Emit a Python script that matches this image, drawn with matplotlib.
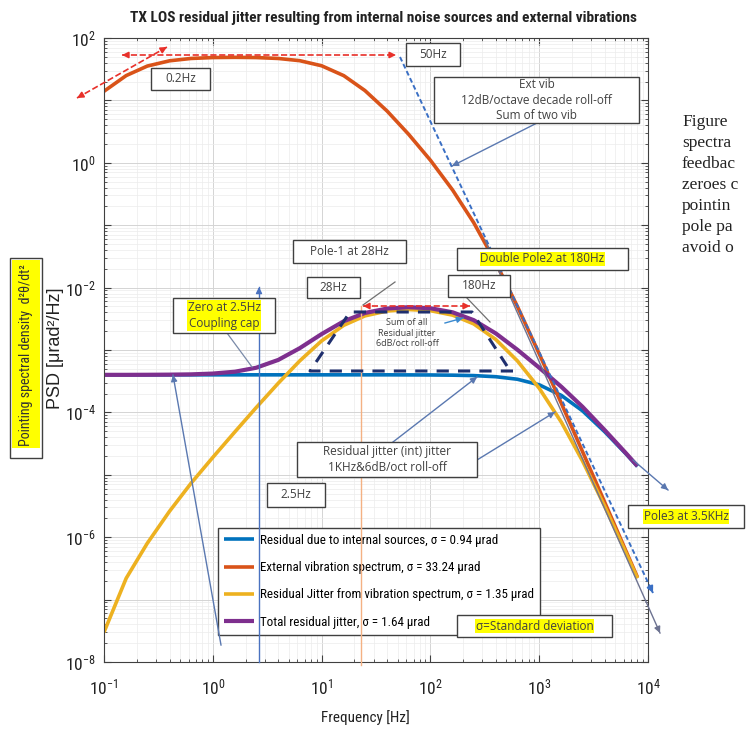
import matplotlib

matplotlib.use("Agg")
import matplotlib.pyplot as plt
import numpy as np
from matplotlib import font_manager
from matplotlib.lines import Line2D
from matplotlib.patches import FancyArrowPatch, Rectangle
from matplotlib.ticker import FuncFormatter, LogLocator, NullFormatter

W, H = 746, 742

# PSD values read at 1/5-decade steps [urad^2/Hz]
freq = [0.1, 0.16, 0.25, 0.4, 0.63, 1, 1.6, 2.5, 4, 6.3,
        10, 16, 25, 40, 63, 100, 160, 250, 400, 630,
        1000, 1600, 2500, 4000, 6300, 8000]
internal = [4.0e-4, 4.0e-4, 4.0e-4, 4.0e-4, 4.0e-4, 4.0e-4, 4.0e-4, 4.0e-4, 4.0e-4, 4.0e-4,
            4.0e-4, 4.0e-4, 4.0e-4, 4.0e-4, 3.99e-4, 3.98e-4, 3.95e-4, 3.89e-4, 3.73e-4, 3.40e-4,
            2.77e-4, 1.87e-4, 1.06e-4, 4.9e-5, 2.15e-5, 1.36e-5]
ext_vib = [14.0, 25.0, 35.5, 43.1, 47.0, 48.6, 49.0, 48.6, 47.0, 43.3,
           35.9, 24.9, 14.4, 6.75, 2.87, 1.10, 0.366, 0.110, 0.025, 5.0e-3,
           8.7e-4, 1.39e-4, 2.36e-5, 3.63e-6, 5.9e-7, 2.28e-7]
resid_vib = [3.0e-8, 2.2e-7, 8.0e-7, 2.6e-6, 7.3e-6, 1.9e-5, 4.9e-5, 1.19e-4, 2.94e-4, 6.7e-4,
             1.40e-3, 2.49e-3, 3.52e-3, 4.22e-3, 4.45e-3, 4.27e-3, 3.62e-3, 2.62e-3, 1.47e-3, 6.7e-4,
             2.44e-4, 6.95e-5, 1.67e-5, 3.13e-6, 5.5e-7, 2.19e-7]
total = [4.0e-4, 4.0e-4, 4.01e-4, 4.03e-4, 4.07e-4, 4.19e-4, 4.49e-4, 5.19e-4, 6.94e-4, 1.07e-3,
         1.80e-3, 2.89e-3, 3.92e-3, 4.62e-3, 4.85e-3, 4.67e-3, 4.02e-3, 3.01e-3, 1.84e-3, 1.01e-3,
         5.21e-4, 2.57e-4, 1.23e-4, 5.2e-5, 2.2e-5, 1.38e-5]

series = [
    (internal, "Residual due to internal sources, σ = 0.94 μrad", "#0072BD"),
    (ext_vib, "External vibration spectrum, σ = 33.24 μrad", "#D95319"),
    (resid_vib, "Residual Jitter from vibration spectrum, σ = 1.35 μrad", "#EDB120"),
    (total, "Total residual jitter, σ = 1.64 μrad", "#7E2F8E"),
]

page_text = ["Figure", "spectra", "feedbac", "zeroes c", "pointin", "pole pa", "avoid o"]

# pick the narrowest sans family available
installed = {f.name for f in font_manager.fontManager.ttflist}
NARROW_NAME = next((n for n in ["Roboto Condensed", "Liberation Sans Narrow", "Arial Narrow",
                                "Liberation Sans", "Roboto"] if n in installed), "DejaVu Sans")
NARROW = [NARROW_NAME, "DejaVu Sans"]
BOXFONT = ["Open Sans", "DejaVu Sans"]
plt.rcParams["font.family"] = NARROW
plt.rcParams["mathtext.fontset"] = "custom"
plt.rcParams["mathtext.rm"] = NARROW_NAME
plt.rcParams["mathtext.it"] = NARROW_NAME + ":italic"
plt.rcParams["mathtext.bf"] = NARROW_NAME + ":bold"

INK = "#404040"
NOTE = "#5a78b0"
RED = "#e8302a"
HL = "#ffff00"


def fp(x, y):
    """pixel position (from top-left) -> figure fraction"""
    return (x / W, 1 - y / H)


fig = plt.figure(figsize=(W / 100, H / 100), dpi=100)
renderer = fig.canvas.get_renderer()


def fit_size(text, width_px, size=10, **kw):
    t = fig.text(0, 0, text, fontsize=size, **kw)
    w = t.get_window_extent(renderer).width
    t.remove()
    return size * width_px / w


ax = fig.add_axes([104 / W, 1 - 662 / H, 544 / W, 624 / H])

for vals, label, c in series:
    lw = 3.0 if c == "#7E2F8E" else 2.6
    ax.plot(freq, vals, color=c, lw=lw, label=label, solid_capstyle="butt")

ax.set_xscale("log")
ax.set_yscale("log")
ax.set_xlim(0.1, 1e4)
ax.set_ylim(1e-8, 1e2)
ax.xaxis.set_major_locator(LogLocator(base=10, numticks=12))
ax.yaxis.set_major_locator(LogLocator(base=10, numticks=15))
ax.xaxis.set_minor_locator(LogLocator(base=10, subs=np.arange(2, 10), numticks=12))
ax.yaxis.set_minor_locator(LogLocator(base=10, subs=np.arange(2, 10), numticks=15))
ax.xaxis.set_minor_formatter(NullFormatter())
ax.yaxis.set_minor_formatter(NullFormatter())


def dec_fmt(v, _pos, every=1):
    e = int(round(np.log10(v)))
    if e % every:
        return ""
    return f"$10^{{{e}}}$"


ax.xaxis.set_major_formatter(FuncFormatter(dec_fmt))
ax.yaxis.set_major_formatter(FuncFormatter(lambda v, p: dec_fmt(v, p, every=2)))
ax.tick_params(which="both", direction="in", top=True, right=True, colors=INK, labelcolor="#222222")
ax.tick_params(which="major", length=5, labelsize=12.5)
ax.tick_params(axis="x", which="major", pad=11)
ax.tick_params(axis="y", which="major", pad=6)
ax.tick_params(which="minor", length=2.5)
ax.grid(True, which="major", color="#d4d4d4", lw=0.7)
ax.grid(True, which="minor", color="#ececec", lw=0.5)
for s in ax.spines.values():
    s.set_color(INK)
ax.set_axisbelow(True)

leg_size = fit_size(series[0][1], 236)
leg = ax.legend(loc="upper left", bbox_to_anchor=fp(218, 528), bbox_transform=fig.transFigure,
                fontsize=leg_size, frameon=True, fancybox=False, edgecolor=INK, borderpad=0.45,
                labelspacing=(26 / (leg_size * 1.39)) - 0.9, handlelength=30 / (leg_size * 1.39),
                handletextpad=0.45, borderaxespad=0)
leg.get_frame().set_linewidth(1.0)
leg.get_frame().set_alpha(1)

title = "TX LOS residual jitter resulting from internal noise sources and external vibrations"
fig.text(384 / W, 1 - 18 / H, title, ha="center", va="center",
         fontsize=fit_size(title, 508, fontweight="bold"), fontweight="bold", color="#222222")
fig.text(365 / W, 1 - 718 / H, "Frequency [Hz]", ha="center", va="center",
         fontsize=fit_size("Frequency [Hz]", 88), color="#222222")
fig.text(56 / W, 1 - 348 / H, "PSD [μrad²/Hz]", ha="center", va="center", rotation=90,
         fontsize=13, family=["Liberation Sans", "DejaVu Sans"], color="#222222")


def seg(p0, p1, color=NOTE, lw=1.0, ls="-", z=7):
    (x0, y0), (x1, y1) = fp(*p0), fp(*p1)
    fig.add_artist(Line2D([x0, x1], [y0, y1], transform=fig.transFigure, color=color,
                          lw=lw, ls=ls, zorder=z))


def head(p0, p1, color=NOTE, lw=1.0, z=7):
    # short solid piece carrying only the arrow head at p1
    fig.add_artist(FancyArrowPatch(fp(*p0), fp(*p1), transform=fig.transFigure,
                                   arrowstyle="-|>", mutation_scale=9, color=color,
                                   lw=lw, shrinkA=0, shrinkB=0, zorder=z))


def arrow(p0, p1, color=NOTE, lw=1.0, ls="-", both=False, z=7):
    seg(p0, p1, color, lw, ls, z)
    v = np.subtract(p1, p0) / np.hypot(*np.subtract(p1, p0))
    head(tuple(np.array(p1) - 6 * v), p1, color, lw, z)
    if both:
        head(tuple(np.array(p0) + 6 * v), p0, color, lw, z)


def box(x0, y0, x1, y1, text, hl=False, size=8.5):
    fig.add_artist(Rectangle(fp(x0, y1), (x1 - x0) / W, (y1 - y0) / H, transform=fig.transFigure,
                             fc="white", ec=INK, lw=1.0, zorder=8))
    bb = dict(fc=HL, ec="none", pad=0.6) if hl else None
    fig.text((x0 + x1) / 2 / W, 1 - (y0 + y1) / 2 / H, text, ha="center", va="center",
             fontsize=size, family=BOXFONT, color=INK, linespacing=1.25, zorder=9, bbox=bb)


# red dashed markers on the external vibration plateau and the residual plateau
arrow((122, 55), (396, 55), RED, 1.2, "--", both=True)
arrow((77, 98), (167, 47), RED, 1.2, "--", both=True)
arrow((363, 306), (470, 306), RED, 1.2, "--", both=True)

# roll-off asymptotes
arrow((400, 57), (653, 593), "#3a6fc4", 1.4, (0, (2.5, 1.5)))
arrow((485, 240), (660, 633), "#6d7391", 1.0)

# frequency markers
arrow((259, 662), (259, 287), "#4a72c0", 1.0)
seg((361, 306), (361, 665), "#f4b183", 1.0)

# pointer lines
arrow((537, 123), (452, 166))
seg((395, 282), (363, 305), "#707070", 0.9)
seg((466, 297), (490, 322), "#707070", 0.9)
seg((227, 333), (252, 367), "#7a8aa8", 0.9)
arrow((221, 645), (173, 375))
arrow((393, 442), (477, 377))
arrow((477, 460), (555, 412))
arrow((445, 323), (463, 318), "#3a8ad0")
arrow((633, 460), (668, 490))

# sum of residual jitter envelope
xs, ys = zip(*[fp(*p) for p in [(513, 371), (310, 371), (350, 312), (472, 312), (507, 366)]])
fig.add_artist(Line2D(xs, ys, transform=fig.transFigure, color="#1f2f6e", lw=2.2,
                      ls=(0, (4, 3)), zorder=7))
fig.text(407 / W, 1 - 333 / H, "Sum of all\nResidual jitter\n6dB/oct roll-off", ha="center",
         va="center", fontsize=6.5, family=BOXFONT, color=INK, linespacing=1.15, zorder=9)

box(151, 68, 210, 90, "0.2Hz")
box(406, 43, 460, 66, "50Hz")
box(434, 77, 639, 123, "Ext vib\n12dB/octave decade roll-off\nSum of two vib")
box(293, 240, 406, 263, "Pole-1 at 28Hz")
box(457, 248, 628, 270, "Double Pole2 at 180Hz", hl=True)
box(307, 277, 360, 298, "28Hz")
box(448, 275, 510, 297, "180Hz")
box(173, 298, 275, 333, "Zero at 2.5Hz\nCoupling cap", hl=True)
box(297, 442, 477, 477, "Residual jitter (int) jitter\n1KHz&6dB/oct roll-off")
box(267, 483, 325, 507, "2.5Hz")
box(457, 615, 612, 637, "σ=Standard deviation", hl=True)
box(628, 505, 744, 528, "Pole3 at 3.5KHz", hl=True)

# highlighted side note
fig.add_artist(Rectangle(fp(10, 458), 32 / W, 200 / H, transform=fig.transFigure,
                         fc="white", ec=INK, lw=1.0, zorder=8))
fig.add_artist(Rectangle(fp(12, 448), 28 / W, 188 / H, transform=fig.transFigure,
                         fc=HL, ec="none", zorder=8))
fig.text(26 / W, 1 - 355 / H, "Pointing spectral density  d²θ/dt²", rotation=90, ha="center",
         va="center", fontsize=fit_size("Pointing spectral density  d²θ/dt²", 182),
         color="#333333", zorder=9)

for i, t in enumerate(page_text):
    fig.text(682 / W, 1 - (122 + 21 * i) / H, t, ha="left", va="center", fontsize=12.5,
             family=["Liberation Serif", "DejaVu Serif"], color="#222222")

fig.savefig("out.png", dpi=100)
